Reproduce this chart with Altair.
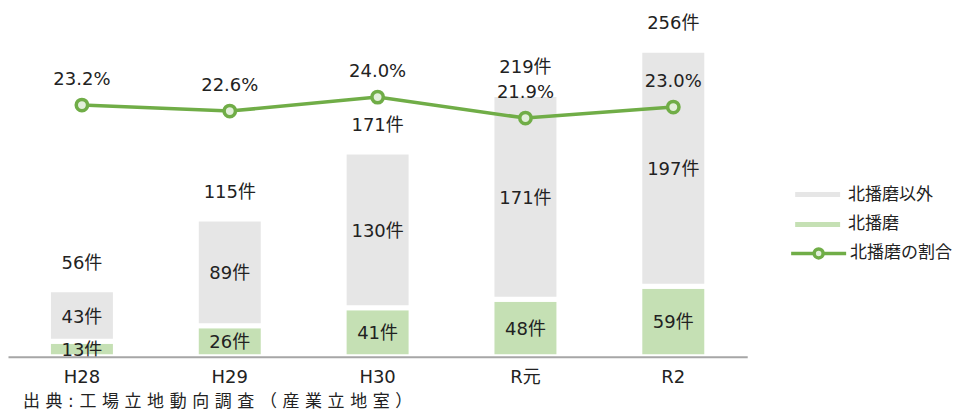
import altair as alt
import pandas as pd

# ---- data ----
years = ["H28", "H29", "H30", "R元", "R2"]
kita = [13, 26, 41, 48, 59]            # 北播磨
other = [43, 89, 130, 171, 197]        # 北播磨以外
total = [56, 115, 171, 219, 256]       # 合計
ratio = [23.2, 22.6, 24.0, 21.9, 23.0] # 北播磨の割合 (%)

S_OTHER = "北播磨以外"
S_KITA = "北播磨"
S_RATIO = "北播磨の割合"
source_text = "出典:工場立地動向調査（産業立地室）"

# ---- styles ----
FONT = "DejaVu Sans, Noto Sans CJK JP"
C_OTHER = "#e6e6e6"
C_KITA = "#c5e0b4"
C_LINE = "#70ad47"
C_PT_FILL = "#e2efda"
TXT = "#222222"

# ---- tables ----
rows = []
for i, y in enumerate(years):
    rows.append({"year": y, "series": S_KITA, "value": kita[i], "ord": 0,
                 "mid": kita[i] / 2, "label": f"{kita[i]}件"})
    rows.append({"year": y, "series": S_OTHER, "value": other[i], "ord": 1,
                 "mid": kita[i] + other[i] / 2, "label": f"{other[i]}件"})
bars_df = pd.DataFrame(rows)

tot_df = pd.DataFrame({"year": years, "total": total,
                       "label": [f"{t}件" for t in total]})
line_df = pd.DataFrame({"year": years, "ratio": ratio,
                        "series": [S_RATIO] * len(years),
                        "label": [f"{r:.1f}%" for r in ratio]})

BAR_DOMAIN = [0, 291]
PCT_DOMAIN = [-2, 32.9]

x_enc = alt.X("year:N", sort=years, title=None,
              scale=alt.Scale(paddingInner=0.547, paddingOuter=0.2735),
              axis=alt.Axis(labelAngle=0, labelFontSize=18, labelColor=TXT,
                            labelFont=FONT, ticks=False, tickSize=0,
                            labelPadding=12, domainColor="#a6a6a6",
                            domainWidth=2, grid=False, zindex=1))

BAR_SYM = "M-3,-0.33H3V0.33H-3Z"
LINE_SYM = ("M-3.67,0H-0.6M0.6,0H3.67"
            "M-0.6,0A0.6,0.6,0,1,1,0.6,0A0.6,0.6,0,1,1,-0.6,0Z")

bar_legend = alt.Legend(
    title=None, orient="none", legendX=802, legendY=178,
    labelFontSize=17, labelColor=TXT, labelFont=FONT, labelOffset=22,
    symbolType=BAR_SYM, symbolSize=225, symbolStrokeWidth=0,
    symbolOpacity=1, rowPadding=12, padding=0,
)
line_legend = alt.Legend(
    title=None, orient="none", legendX=802, legendY=236,
    labelFontSize=17, labelColor=TXT, labelFont=FONT, labelOffset=22,
    symbolType=LINE_SYM, symbolSize=225, symbolStrokeWidth=3.5,
    symbolFillColor=C_PT_FILL, symbolOpacity=1, padding=0,
)

bars = alt.Chart(bars_df).mark_bar(stroke="white", strokeWidth=5).encode(
    x=x_enc,
    y=alt.Y("value:Q", stack="zero", axis=None,
            scale=alt.Scale(domain=BAR_DOMAIN, nice=False, zero=False)),
    color=alt.Color("series:N",
                    scale=alt.Scale(domain=[S_OTHER, S_KITA], range=[C_OTHER, C_KITA]),
                    legend=bar_legend),
    order=alt.Order("ord:Q"),
)

seg_text = alt.Chart(bars_df).mark_text(
    fontSize=18, font=FONT, color=TXT, baseline="middle", dy=2
).encode(
    x=alt.X("year:N", sort=years),
    y=alt.Y("mid:Q", axis=None, scale=alt.Scale(domain=BAR_DOMAIN, nice=False, zero=False)),
    text="label:N",
)

tot_text = alt.Chart(tot_df).mark_text(
    fontSize=18, font=FONT, color=TXT, baseline="middle", dy=-26
).encode(
    x=alt.X("year:N", sort=years),
    y=alt.Y("total:Q", axis=None, scale=alt.Scale(domain=BAR_DOMAIN, nice=False, zero=False)),
    text="label:N",
)

pct_y = alt.Y("ratio:Q", axis=None, scale=alt.Scale(domain=PCT_DOMAIN, nice=False, zero=False))

line = alt.Chart(line_df).mark_line(strokeWidth=3.5).encode(
    x=alt.X("year:N", sort=years),
    y=pct_y,
    stroke=alt.Stroke("series:N",
                      scale=alt.Scale(domain=[S_RATIO], range=[C_LINE]),
                      legend=line_legend),
)

points = alt.Chart(line_df).mark_point(
    shape="circle", filled=True, fill=C_PT_FILL, stroke=C_LINE,
    strokeWidth=3.5, size=130, opacity=1
).encode(
    x=alt.X("year:N", sort=years),
    y=pct_y,
)

pct_text = alt.Chart(line_df).mark_text(
    fontSize=18, font=FONT, color=TXT, baseline="middle", dy=-25
).encode(
    x=alt.X("year:N", sort=years),
    y=pct_y,
    text="label:N",
)

chart = alt.layer(bars, seg_text, tot_text, line, points, pct_text).resolve_scale(
    y="independent"
).properties(
    width=740, height=349, padding=0,
    title=alt.TitleParams(
        "\u2004".join(source_text), orient="bottom", anchor="start",
        fontSize=17, font=FONT, color=TXT, fontWeight="normal",
        dx=15, offset=7,
    ),
).configure_view(stroke=None).configure_axis(grid=False)

chart.save("out.html", embed_options={"renderer": "svg", "actions": False})
